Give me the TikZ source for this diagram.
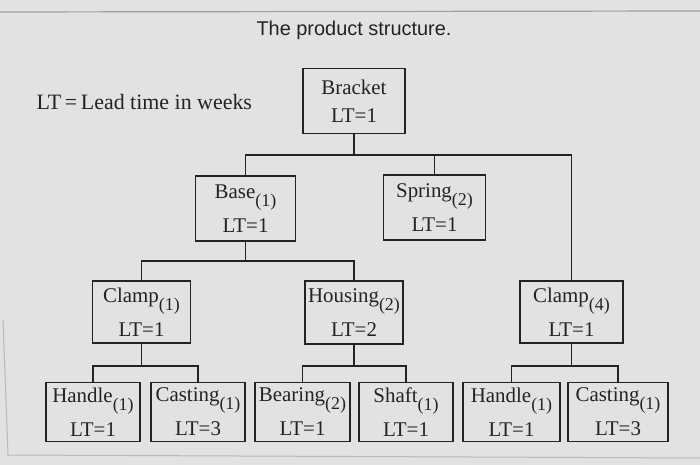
\documentclass[tikz,border=0pt]{standalone}
\usepackage{fontspec}
\setmainfont{Liberation Serif}
\newfontfamily\titlefont{Liberation Sans}
\definecolor{paper}{RGB}{226,226,224}
\definecolor{ink}{RGB}{35,35,35}
\newcommand{\partqty}[1]{\raisebox{-8bp}{\fontsize{18}{18}\selectfont(#1)}}
\begin{document}
\begin{tikzpicture}[x=1bp,y=-1bp,
  every node/.style={font=\fontsize{21}{34}\selectfont,text=ink},
  part/.style={draw=ink,line width=1.6bp,minimum width=98bp,minimum height=64bp,inner sep=1bp,align=center},
  leaf/.style={part,minimum width=95bp,minimum height=59bp},
  link/.style={draw=ink,line width=1.5bp}]
% paper and screen edges
\fill[paper] (0,0) rectangle (700,465);
\useasboundingbox (0,0) rectangle (700,465);
\draw[gray!75,line width=1.2bp] (0,12) -- (700,11);
\draw[gray!55,line width=1bp] (3,320) -- (8,455) -- (700,458);
% title and legend
\node[font=\titlefont\fontsize{20}{24}\selectfont] (title) at (354,30) {The product structure.};
\node[anchor=base west,font=\fontsize{22}{26}\selectfont] (legend) at (33,110) {LT\,=\,Lead time in weeks};
% level 0 and 1
\node[part,minimum width=102bp,minimum height=65bp] (bracket) at (354,101) {Bracket\\[-6bp]LT=1};
\node[part,minimum width=100bp,minimum height=65bp] (base) at (245.5,208.5) {Base\partqty{1}\\LT=1};
\node[part,minimum width=102bp,minimum height=65bp] (spring) at (434.5,207.5) {Spring\partqty{2}\\LT=1};
% level 2
\node[part,minimum height=62bp] (clampA) at (141.5,312) {Clamp\partqty{1}\\LT=1};
\node[part,minimum height=63bp] (housing) at (354,312.5) {Housing\partqty{2}\\LT=2};
\node[part,minimum width=103bp,minimum height=62bp] (clampB) at (571.5,312) {Clamp\partqty{4}\\LT=1};
% level 3
\node[leaf,minimum width=94bp] (handleA) at (93,412) {Handle\partqty{1}\\LT=1};
\node[leaf,minimum width=94bp] (castingA) at (198,412) {Casting\partqty{1}\\LT=3};
\node[leaf] (bearing) at (302.5,412) {Bearing\partqty{2}\\LT=1};
\node[leaf,minimum width=94bp] (shaft) at (406,412) {Shaft\partqty{1}\\LT=1};
\node[leaf,minimum width=97bp] (handleB) at (511.5,412) {Handle\partqty{1}\\LT=1};
\node[leaf,minimum width=100bp] (castingB) at (618,412) {Casting\partqty{1}\\LT=3};
% connectors
\coordinate (lvlA) at (0,155);
\coordinate (lvlB) at (0,261);
\coordinate (lvlC) at (0,366);
\draw[link] (bracket.south) -- (bracket.south |- lvlA);
\draw[link] (base.north) |- (clampB.north |- lvlA) -- (clampB.north);
\draw[link] (spring.north) -- (spring.north |- lvlA);
\draw[link] (base.south) -- (base.south |- lvlB);
\draw[link] (clampA.north) |- (housing.north |- lvlB) -- (housing.north);
\draw[link] (clampA.south) -- (clampA.south |- lvlC);
\draw[link] (handleA.north) |- (castingA.north |- lvlC) -- (castingA.north);
\draw[link] (housing.south) -- (housing.south |- lvlC);
\draw[link] (bearing.north) |- (shaft.north |- lvlC) -- (shaft.north);
\draw[link] (clampB.south) -- (clampB.south |- lvlC);
\draw[link] (handleB.north) |- (castingB.north |- lvlC) -- (castingB.north);
\end{tikzpicture}
\end{document}
